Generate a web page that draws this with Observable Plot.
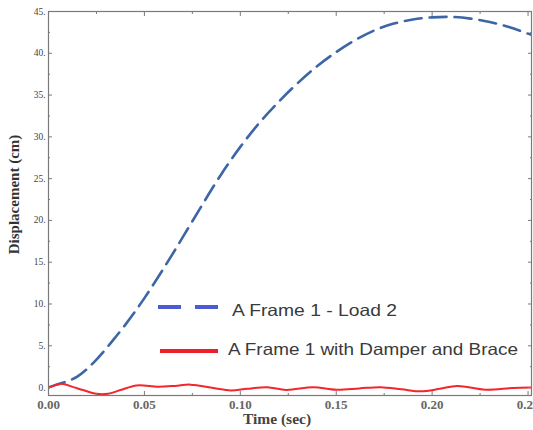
<!DOCTYPE html>
<html><head><meta charset="utf-8">
<script src="https://cdn.jsdelivr.net/npm/d3@7"></script>
<script src="https://cdn.jsdelivr.net/npm/@observablehq/plot@0.6"></script>
<style>body{margin:0;background:#fff}</style>
</head><body><div id="chart"></div>
<script>
// Series 1: A Frame 1 - Load 2
const timeLoad2 = [0, 0.004, 0.007, 0.011, 0.015, 0.020, 0.025, 0.030, 0.035, 0.040, 0.045, 0.050, 0.055, 0.060, 0.065, 0.070, 0.075, 0.080, 0.085, 0.090, 0.095, 0.100, 0.110, 0.120, 0.130, 0.140, 0.150, 0.160, 0.170, 0.180, 0.190, 0.200, 0.210, 0.220, 0.230, 0.240, 0.250, 0.2518];
const dispLoad2 = [0, 0.35, 0.55, 0.85, 1.3, 2.2, 3.35, 4.65, 6.05, 7.5, 9.05, 10.7, 12.45, 14.25, 16.1, 18.0, 19.9, 21.8, 23.7, 25.5, 27.2, 28.8, 31.7, 34.2, 36.45, 38.45, 40.15, 41.6, 42.75, 43.55, 44.05, 44.3, 44.35, 44.15, 43.75, 43.15, 42.35, 42.2];
// Series 2: A Frame 1 with Damper and Brace
const timeDamper = [0, 0.004, 0.007, 0.013, 0.018, 0.025, 0.031, 0.0375, 0.046, 0.057, 0.066, 0.074, 0.086, 0.095, 0.1035, 0.114, 0.124, 0.138, 0.150, 0.162, 0.173, 0.184, 0.194, 0.204, 0.213, 0.228, 0.242, 0.2518];
const dispDamper = [0, 0.3, 0.45, 0.05, -0.3, -0.75, -0.75, -0.3, 0.25, 0.1, 0.2, 0.35, -0.05, -0.35, -0.15, 0.05, -0.28, 0.05, -0.25, -0.1, 0.05, -0.2, -0.45, -0.15, 0.2, -0.25, -0.05, 0];

const seriesNames = ["A Frame 1 - Load 2", "A Frame 1 with Damper and Brace"];
const xTicks = [0, 0.05, 0.10, 0.15, 0.20, 0.25];
const xMinor = [0.025, 0.075, 0.125, 0.175, 0.225];
const yTicks = [0, 5, 10, 15, 20, 25, 30, 35, 40, 45];
const yMinor = [2.5, 7.5, 12.5, 17.5, 22.5, 27.5, 32.5, 37.5, 42.5];
const xLabel = "Time (sec)";
const yLabel = "Displacement (cm)";

const load2 = timeLoad2.map((t, i) => ({t, v: dispLoad2[i]}));
const damper = timeDamper.map((t, i) => ({t, v: dispDamper[i]}));

const serif = "'Liberation Serif', 'DejaVu Serif', serif";
const sans = "'Liberation Sans', Arial, sans-serif";
const axisCol = "#7a7a7a";

const chart = Plot.plot({
  width: 533,
  height: 430,
  marginLeft: 48,
  marginRight: 2,
  marginTop: 11,
  marginBottom: 35,
  style: {fontFamily: serif, background: "#fff"},
  x: {domain: [0, 0.2518]},
  y: {domain: [-0.95, 45]},
  marks: [
    Plot.line(load2, {x: "t", y: "v", stroke: "#3d66a6", strokeWidth: 2.6, strokeDasharray: "17,8", curve: "catmull-rom", clip: true}),
    Plot.line(damper, {x: "t", y: "v", stroke: "#f2262c", strokeWidth: 2, curve: "catmull-rom", clip: true}),
    Plot.frame({stroke: axisCol, strokeWidth: 1.2}),
    Plot.axisY(yTicks, {anchor: "left", tickSize: -4, tickPadding: 7, tickFormat: d => d + ".", label: null, fontSize: 9.5, fill: "#444", stroke: axisCol}),
    Plot.axisY(yMinor, {anchor: "left", tickSize: -2, tickFormat: () => "", label: null, stroke: axisCol}),
    Plot.axisY(yTicks, {anchor: "right", tickSize: -4, tickFormat: () => "", label: null, stroke: axisCol}),
    Plot.axisY(yMinor, {anchor: "right", tickSize: -2, tickFormat: () => "", label: null, stroke: axisCol}),
    Plot.axisX(xTicks, {anchor: "bottom", tickSize: -4, tickPadding: 8, tickFormat: d3.format(".2f"), label: null, fontSize: 13, fontWeight: "bold", fill: "#666", stroke: axisCol}),
    Plot.axisX(xMinor, {anchor: "bottom", tickSize: -2, tickFormat: () => "", label: null, stroke: axisCol}),
    Plot.axisX(xTicks, {anchor: "top", tickSize: -4, tickFormat: () => "", label: null, stroke: axisCol}),
    Plot.axisX(xMinor, {anchor: "top", tickSize: -2, tickFormat: () => "", label: null, stroke: axisCol}),
    Plot.text([yLabel], {frameAnchor: "left", text: d => d, rotate: -90, textAnchor: "middle", lineAnchor: "middle", dx: -34, dy: -9, fontSize: 15, fontWeight: "bold", fill: "#333"}),
    Plot.text([xLabel], {frameAnchor: "bottom", text: d => d, textAnchor: "middle", lineAnchor: "middle", dx: -13, dy: 24, fontSize: 15.5, fontWeight: "bold", fill: "#444"})
  ]
});
document.getElementById("chart").appendChild(chart);

// Legend inside the plot area
const svg = d3.select(chart);
const leg = svg.append("g").attr("class", "legend");
leg.append("line").attr("x1", 158).attr("x2", 218).attr("y1", 307).attr("y2", 307)
  .attr("stroke", "#4a5bd3").attr("stroke-width", 4).attr("stroke-dasharray", "23,14");
leg.append("line").attr("x1", 160).attr("x2", 218).attr("y1", 351).attr("y2", 351)
  .attr("stroke", "#ee1f2a").attr("stroke-width", 4);
const legendItems = [
  {name: seriesNames[0], x: 232, y: 310, len: 165},
  {name: seriesNames[1], x: 228, y: 349.5, len: 290}
];
leg.selectAll("text.item").data(legendItems).join("text")
  .attr("class", "item")
  .attr("x", d => d.x).attr("y", d => d.y)
  .attr("dy", "0.35em")
  .attr("text-anchor", "start")
  .attr("textLength", d => d.len).attr("lengthAdjust", "spacingAndGlyphs")
  .attr("font-family", sans).attr("font-size", 16.5).attr("fill", "#3a3a3a")
  .text(d => d.name);
</script>
</body></html>
